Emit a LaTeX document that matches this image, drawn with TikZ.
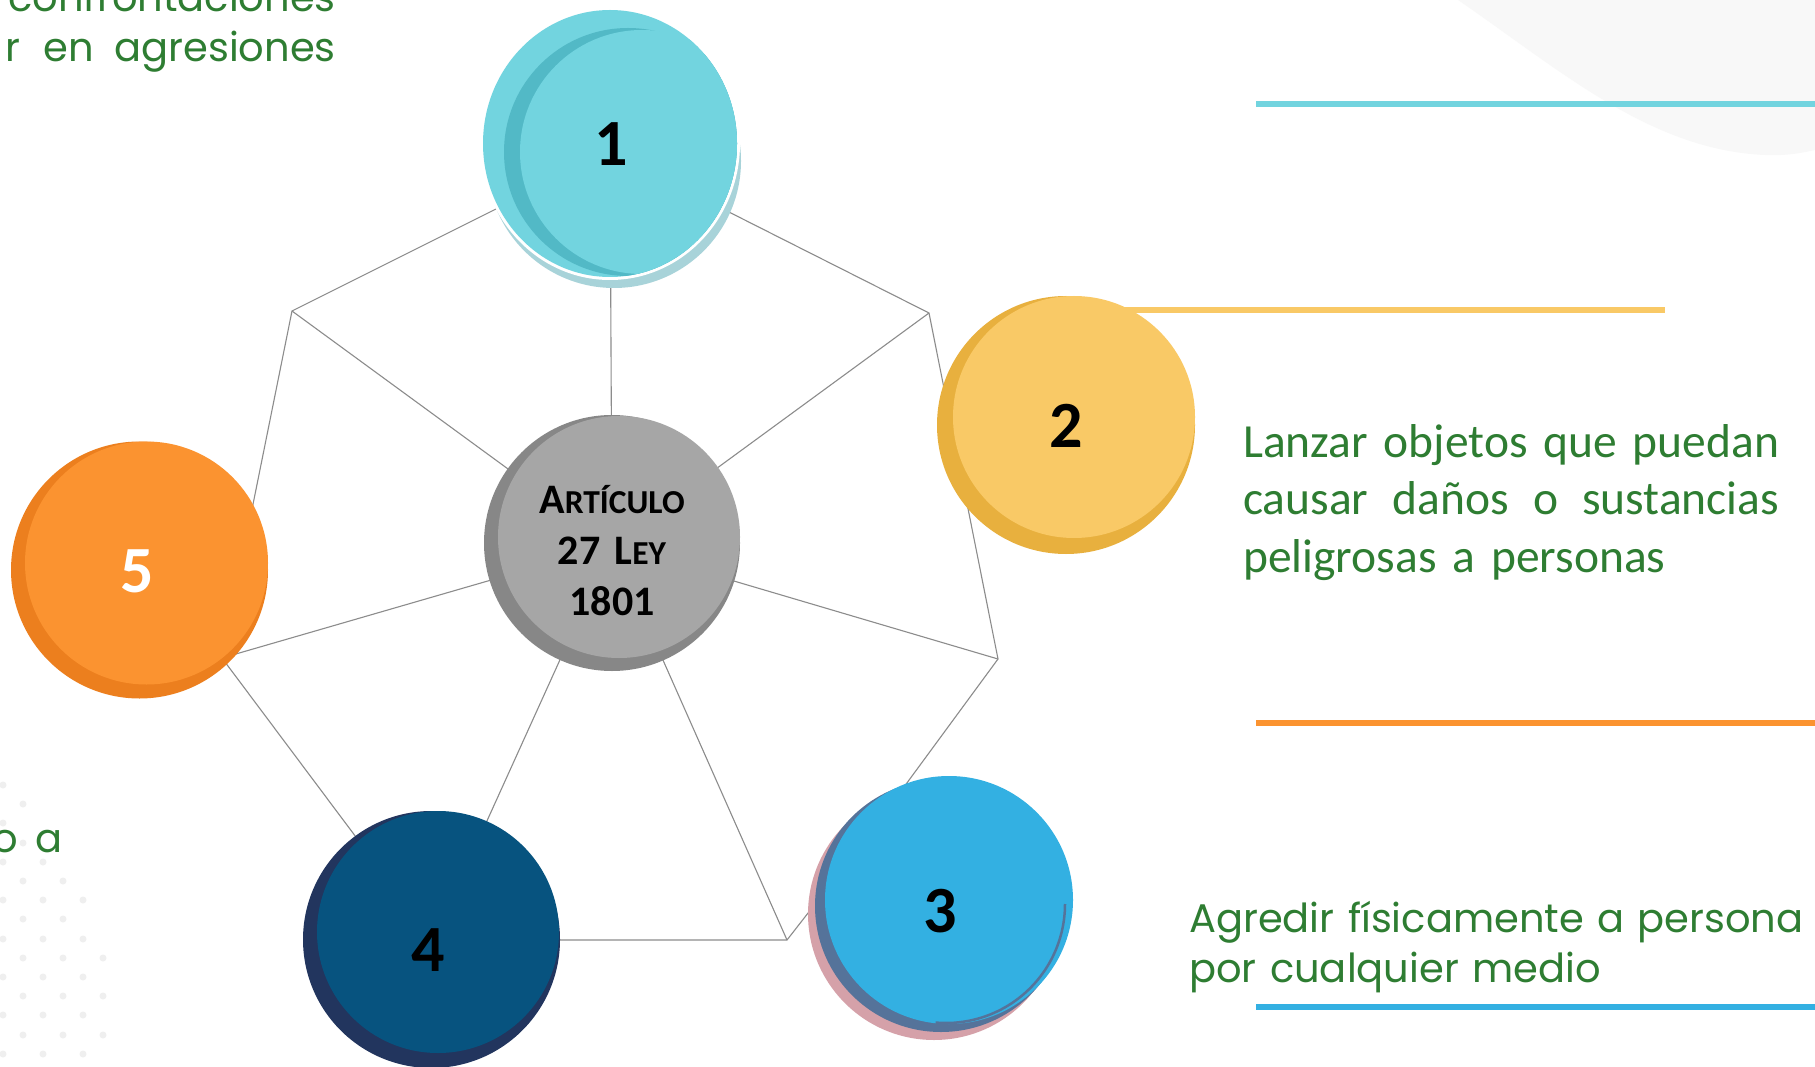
\documentclass[tikz,border=0pt]{standalone}
\usepackage{fontspec}
\setmainfont{Carlito}
\newfontfamily\gothicfont{Poppins}
\usepackage{xcolor}
\usetikzlibrary{positioning}
\definecolor{tealA}{HTML}{72D4DF}
\definecolor{tealB}{HTML}{52B9C6}
\definecolor{tealC}{HTML}{A8D3D9}
\definecolor{goldA}{HTML}{F9C966}
\definecolor{goldB}{HTML}{E8B03E}
\definecolor{skyA}{HTML}{33B0E2}
\definecolor{skyB}{HTML}{55739A}
\definecolor{skyC}{HTML}{D5A1A9}
\definecolor{navyA}{HTML}{07537F}
\definecolor{navyB}{HTML}{22355E}
\definecolor{orngA}{HTML}{FB9330}
\definecolor{orngB}{HTML}{EC7F1E}
\definecolor{greyA}{HTML}{A6A6A6}
\definecolor{greyB}{HTML}{878787}
\definecolor{spokegrey}{HTML}{8C8C8C}
\definecolor{textgreen}{HTML}{2E7D32}
\definecolor{wavegrey}{HTML}{F8F8F8}
\definecolor{dotgrey}{HTML}{EFEFEF}
\newcommand{\smcap}[1]{{\fontsize{33.5}{51}\selectfont #1}}

\begin{document}
\begin{tikzpicture}[x=1pt,y=-1pt]
		\tikzstyle{every node}=[inner sep=0pt]
		\tikzstyle{spoke}=[line width=1.1pt, draw=spokegrey]
		\tikzstyle{bar}=[line width=6pt]
		\tikzstyle{num}=[font=\fontsize{66}{66}\selectfont\bfseries]
		\tikzstyle{body}=[text=textgreen, font=\fontsize{47.5}{57.5}\selectfont]
		\tikzstyle{gothic}=[text=textgreen, font=\gothicfont\fontsize{40}{50}\selectfont]
		\useasboundingbox (0,0) rectangle (1815,1067);
		\fill [white] (0,0) rectangle (1815,1067);
		\fill [wavegrey] (1458,0) .. controls (1560,70) and (1650,150) .. (1765,155) .. controls (1790,156) and (1805,152) .. (1815,150) -- (1815,0) -- cycle;
		\foreach \py/\pxs in {785/{3},804/{23},823/{3},843/{23},862/{3,43},881/{23,63},900/{3,43,83},919/{23,63},939/{3,43,83},958/{23,63,103},977/{3,43,83},996/{23,63,103},1015/{3,43,83},1035/{23,63,103},1054/{3,43,83}}
			\foreach \px in \pxs
				\fill [dotgrey] (\px,\py) circle (3.5);
		\coordinate (hub) at (612,545);
		\coordinate (p1) at (610,152);
		\coordinate (v12) at (929,313);
		\coordinate (v23) at (998,659);
		\coordinate (p3) at (865,840);
		\coordinate (v34) at (787,940);
		\coordinate (v43) at (433,940);
		\coordinate (v45) at (222,658);
		\coordinate (v51) at (292,311);
		\draw [spoke] (p1) -- (v12) -- (v23) -- (p3) -- (v34) -- (v43) -- (v45) -- (v51) -- cycle;
		\draw [spoke] (hub) -- (p1);
		\draw [spoke] (hub) -- (v12);
		\draw [spoke] (hub) -- (v23);
		\draw [spoke] (hub) -- (v34);
		\draw [spoke] (hub) -- (v43);
		\draw [spoke] (hub) -- (v45);
		\draw [spoke] (hub) -- (v51);
		\draw [bar, tealA] (1256,104.5) -- (1815,104.5);
		\draw [bar, goldA] (1110,310) -- (1665,310);
		\draw [bar, orngA] (1256,723) -- (1815,723);
		\draw [bar, skyA] (1256,1007) -- (1815,1007);
		\fill [tealC] (614,161) circle (127);
		\fill [white] (610,143.5) ellipse (130 and 136.5);
		\fill [tealA] (610,143.5) ellipse (127 and 133.5);
		\begin{scope}
			\clip (610,143.5) ellipse (127 and 133.5);
			\fill [tealB] (628,152) circle (124);
			\fill [tealA] (642,152) circle (122);
		\end{scope}
		\fill [goldB] (1066,425) circle (129);
		\fill [goldA] (1074,417) circle (121);
		\fill [skyC] (934,914) circle (126);
		\fill [skyB] (941,906) circle (126);
		\fill [skyA] (949,900) circle (124);
		\draw [skyB, line width=2.5pt] (1065,904) arc (0:95:119);
		\fill [navyB] (431.5,939.5) circle (128.5);
		\fill [navyA] (438,932) circle (121);
		\fill [orngB] (139.5,570) circle (128.5);
		\fill [orngA] (146.5,563) circle (121.5);
		\fill [greyB] (612,543) circle (128);
		\fill [greyA] (619,537) circle (121);
		\node [num] (n1) at (611,144) {1};
		\node [num] (n2) at (1066,426) {2};
		\node [num] (n3) at (940,911) {3};
		\node [num] (n4) at (428,950) {4};
		\node [num, text=white] (n5) at (137,571) {5};
		\node [font=\fontsize{42}{51}\selectfont\bfseries, text width=240pt, align=center, anchor=base] (art) at (612,513) {A\smcap{RTÍCULO}\\27 L\smcap{EY}\\1801};
		\node [body, text width=536pt, align=left, anchor=base west] (lanzar) at (1243,457) {\makebox[536pt][l]{Lanzar \hfill objetos \hfill que \hfill puedan}\\\makebox[536pt][l]{causar \hfill daños \hfill o \hfill sustancias}\\peligrosas a personas};
		\node [gothic, text width=640pt, align=left, anchor=base west] (agredir) at (1189,932) {Agredir físicamente a persona\\por cualquier medio};
		\node [gothic, anchor=base east] (confront) at (336,12) {confrontaciones};
		\node [gothic, anchor=base east] (agresiones) at (336,62) {r\hspace{24pt}en\hspace{20pt}agresiones};
		\node [gothic, anchor=base east] (oa) at (63,852) {o\hspace{18pt}a};
\end{tikzpicture}
\end{document}
